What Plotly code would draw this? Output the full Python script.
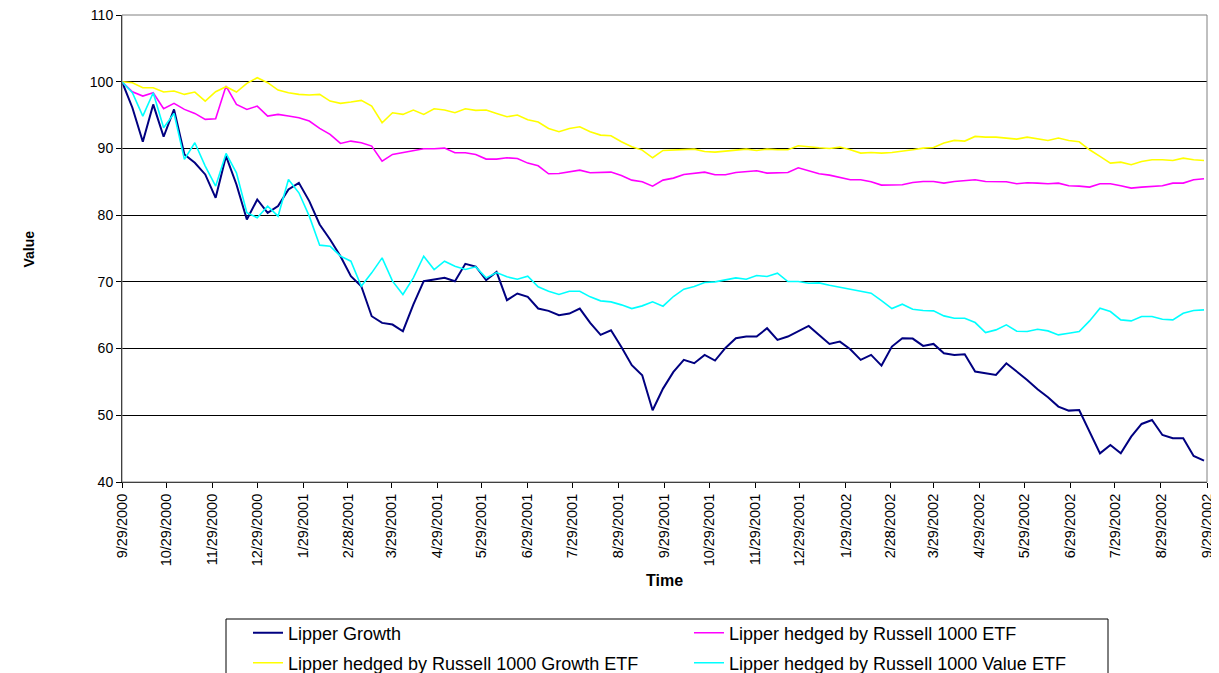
import plotly.graph_objects as go
import pandas as pd

# Weekly observations (Fridays) from 9/29/2000 to 9/27/2002
dates = pd.date_range("2000-09-29", periods=105, freq="7D")

lipper_growth = [
    100, 96.1, 91.0, 96.6, 91.75, 95.85, 89.1, 87.85, 86.1, 82.6,
    88.85, 84.6, 79.35, 82.35, 80.35, 81.35, 83.85, 84.85, 82.1, 78.6,
    76.35, 73.85, 70.85, 69.35, 64.85, 63.85, 63.6, 62.6, 66.6, 70.1,
    70.35, 70.6, 70.1, 72.7, 72.3, 70.25, 71.5, 67.25, 68.25, 67.75,
    66.0, 65.65, 65.0, 65.25, 66.0, 63.85, 62.05, 62.75, 60.25, 57.5,
    56.0, 50.75, 54.0, 56.5, 58.3, 57.8, 59.05, 58.2, 60.1, 61.55,
    61.8, 61.8, 63.05, 61.3, 61.8, 62.55, 63.4, 62.05, 60.7, 61.05,
    59.9, 58.3, 59.05, 57.45, 60.3, 61.55, 61.5, 60.4, 60.7, 59.3,
    59.05, 59.15, 56.55, 56.3, 56.05, 57.8, 56.55, 55.3, 53.9, 52.7,
    51.3, 50.7, 50.8, 47.55, 44.3, 45.55, 44.3, 46.8, 48.7, 49.3,
    47.05, 46.55, 46.55, 43.9, 43.2,
]

hedged_r1000 = [
    100, 98.5, 97.85, 98.35, 95.95, 96.75, 95.85, 95.25, 94.35, 94.45,
    99.35, 96.6, 95.85, 96.35, 94.85, 95.1, 94.85, 94.6, 94.1, 93.0,
    92.1, 90.75, 91.1, 90.85, 90.35, 88.1, 89.1, 89.35, 89.6, 89.95,
    89.95, 90.05, 89.35, 89.35, 89.1, 88.4, 88.4, 88.6, 88.5, 87.8,
    87.4, 86.2, 86.25, 86.55, 86.75, 86.35, 86.45, 86.45, 85.95, 85.25,
    85.0, 84.35, 85.25, 85.55, 86.1, 86.3, 86.45, 86.05, 86.05, 86.4,
    86.5, 86.65, 86.3, 86.4, 86.4, 87.1, 86.65, 86.2, 86.0, 85.65,
    85.3, 85.3, 85.0, 84.5, 84.55, 84.55, 84.9, 85.05, 85.05, 84.8,
    85.05, 85.15, 85.3, 85.05, 85.05, 85.0, 84.7, 84.85, 84.8, 84.7,
    84.8, 84.4, 84.35, 84.2, 84.7, 84.7, 84.4, 84.05, 84.2, 84.3,
    84.4, 84.8, 84.8, 85.3, 85.45,
]

hedged_r1000_growth = [
    100, 99.85, 99.1, 99.1, 98.45, 98.6, 98.1, 98.45, 97.1, 98.5,
    99.25, 98.45, 99.75, 100.6, 99.85, 98.75, 98.35, 98.1, 98.0, 98.1,
    97.1, 96.75, 96.95, 97.2, 96.35, 93.85, 95.35, 95.1, 95.75, 95.1,
    95.95, 95.75, 95.35, 95.95, 95.7, 95.75, 95.25, 94.75, 95.0, 94.3,
    93.95, 93.0, 92.5, 93.0, 93.25, 92.5, 92.0, 91.9, 91.0, 90.25,
    89.75, 88.6, 89.7, 89.8, 89.9, 89.9, 89.55, 89.45, 89.6, 89.8,
    89.9, 89.7, 89.9, 89.8, 89.8, 90.4, 90.2, 90.1, 90.0, 90.2,
    89.8, 89.3, 89.4, 89.3, 89.4, 89.55, 89.8, 90.05, 90.15, 90.8,
    91.2, 91.1, 91.8, 91.7, 91.7, 91.55, 91.4, 91.7, 91.45, 91.2,
    91.55, 91.2, 91.0, 89.8, 88.8, 87.8, 87.95, 87.55, 88.05, 88.3,
    88.3, 88.2, 88.55, 88.3, 88.2,
]

hedged_r1000_value = [
    100, 98.35, 94.85, 98.35, 93.1, 95.25, 88.35, 90.85, 87.35, 84.35,
    89.25, 86.35, 80.35, 79.6, 81.35, 79.85, 85.35, 83.35, 79.85, 75.5,
    75.35, 73.85, 73.1, 69.35, 71.35, 73.6, 70.1, 68.1, 70.6, 73.85,
    71.85, 73.1, 72.35, 71.85, 72.25, 70.6, 71.4, 70.75, 70.4, 70.85,
    69.25, 68.6, 68.1, 68.6, 68.6, 67.75, 67.15, 67.0, 66.55, 66.0,
    66.4, 67.0, 66.35, 67.8, 68.9, 69.3, 69.9, 70.0, 70.3, 70.6,
    70.4, 70.95, 70.8, 71.3, 70.05, 70.05, 69.8, 69.85, 69.5, 69.2,
    68.9, 68.55, 68.3, 67.2, 66.0, 66.65, 65.9, 65.7, 65.65, 64.9,
    64.55, 64.55, 63.9, 62.4, 62.8, 63.55, 62.6, 62.55, 62.9, 62.65,
    62.05, 62.3, 62.55, 64.15, 66.05, 65.55, 64.3, 64.15, 64.8, 64.8,
    64.4, 64.3, 65.3, 65.7, 65.8,
]

tick_dates = [
    "2000-09-29", "2000-10-29", "2000-11-29", "2000-12-29", "2001-01-29",
    "2001-02-28", "2001-03-29", "2001-04-29", "2001-05-29", "2001-06-29",
    "2001-07-29", "2001-08-29", "2001-09-29", "2001-10-29", "2001-11-29",
    "2001-12-29", "2002-01-29", "2002-02-28", "2002-03-29", "2002-04-29",
    "2002-05-29", "2002-06-29", "2002-07-29", "2002-08-29", "2002-09-29",
]
tick_labels = [
    "9/29/2000", "10/29/2000", "11/29/2000", "12/29/2000", "1/29/2001",
    "2/28/2001", "3/29/2001", "4/29/2001", "5/29/2001", "6/29/2001",
    "7/29/2001", "8/29/2001", "9/29/2001", "10/29/2001", "11/29/2001",
    "12/29/2001", "1/29/2002", "2/28/2002", "3/29/2002", "4/29/2002",
    "5/29/2002", "6/29/2002", "7/29/2002", "8/29/2002", "9/29/2002",
]

series_names = [
    "Lipper Growth",
    "Lipper hedged by Russell 1000 ETF",
    "Lipper hedged by Russell 1000 Growth ETF",
    "Lipper hedged by Russell 1000 Value ETF",
]
series_values = [lipper_growth, hedged_r1000, hedged_r1000_growth, hedged_r1000_value]
series_colors = ["#000080", "#FF00FF", "#FFFF00", "#00FFFF"]
series_widths = [2, 1.6, 1.6, 1.6]
series_legends = ["legend", "legend", "legend2", "legend2"]

FONT = "Liberation Sans, Arial, sans-serif"

fig = go.Figure()
for name, vals, col, w, lg in zip(series_names, series_values, series_colors,
                                  series_widths, series_legends):
    fig.add_trace(go.Scatter(x=dates, y=vals, mode="lines", name=name,
                             line=dict(color=col, width=w), legend=lg))

# The page body adds an 8px offset, so the figure is sized to compensate.
OFF = 8
W, H = 1219 - OFF, 673 - OFF
PL, PR, PT, PB = 122, 1207, 15, 482          # plot area in page pixels
L, T = PL - OFF, PT - OFF
R, B = W - (PR - OFF), H - (PB - OFF)
pw, ph = PR - PL, PB - PT


def px_x(p):
    return (p - PL) / pw


def px_y(p):
    return (PB - p) / ph


fig.update_layout(
    width=W, height=H,
    margin=dict(l=L, r=R, t=T, b=B, autoexpand=False),
    paper_bgcolor="white", plot_bgcolor="white",
    font=dict(family=FONT, size=14, color="black"),
    xaxis=dict(
        type="date", range=["2000-09-29", "2002-09-29"],
        tickvals=tick_dates, ticktext=tick_labels, tickangle=-90,
        ticks="outside", ticklen=5, tickcolor="black", tickwidth=1,
        showline=True, linecolor="black", linewidth=1,
        showgrid=False, zeroline=False, automargin=False,
        ticklabeloverflow="allow", tickfont=dict(size=14.5),
    ),
    yaxis=dict(
        range=[40, 110], dtick=10, tick0=40,
        ticks="outside", ticklen=5, tickcolor="black", tickwidth=1,
        showline=True, linecolor="black", linewidth=1,
        showgrid=True, gridcolor="black", gridwidth=1,
        zeroline=False, automargin=False,
        ticklabeloverflow="allow", tickfont=dict(size=14),
    ),
    legend=dict(
        orientation="h", xanchor="left", yanchor="middle",
        x=px_x(248), y=px_y(633),
        entrywidth=396, entrywidthmode="pixels",
        bgcolor="rgba(0,0,0,0)", borderwidth=0,
        font=dict(size=18), traceorder="normal",
    ),
    legend2=dict(
        orientation="h", xanchor="left", yanchor="middle",
        x=px_x(248), y=px_y(663),
        entrywidth=396, entrywidthmode="pixels",
        bgcolor="rgba(0,0,0,0)", borderwidth=0,
        font=dict(size=18), traceorder="normal",
    ),
    shapes=[
        dict(type="rect", xref="paper", yref="paper", x0=0, x1=1, y0=0, y1=1,
             line=dict(color="#808080", width=1), layer="above"),
        dict(type="rect", xref="paper", yref="paper",
             x0=px_x(226), x1=px_x(1108), y0=px_y(690), y1=px_y(619),
             line=dict(color="black", width=1), layer="above"),
    ],
    annotations=[
        dict(text="<b>Value</b>", xref="paper", yref="paper",
             x=px_x(18), y=0.5, showarrow=False, textangle=-90,
             font=dict(size=14)),
        dict(text="<b>Time</b>", xref="paper", yref="paper",
             x=0.5, y=px_y(591), showarrow=False, font=dict(size=16)),
    ],
)

fig.write_html("out.html")
